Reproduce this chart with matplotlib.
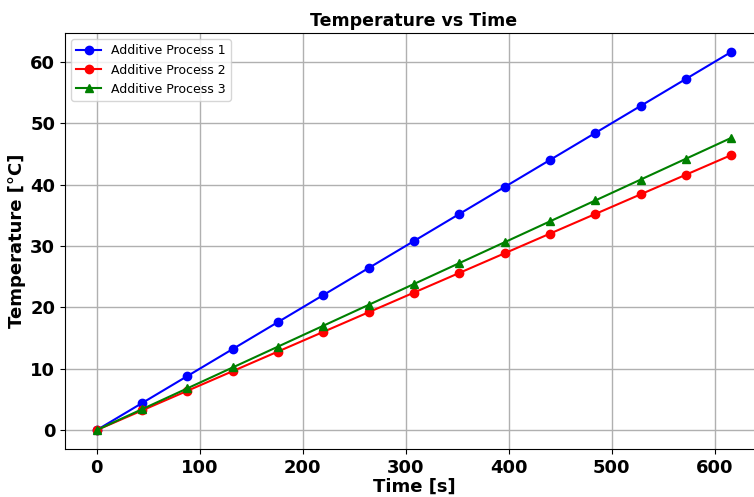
import matplotlib
matplotlib.use('Agg')
import matplotlib.pyplot as plt

# Time samples [s]
time_s = [0, 44, 88, 132, 176, 220, 264, 308, 352, 396, 440, 484, 528, 572, 616]

# Temperatures [°C]
temp_p1 = [0.0, 4.4, 8.8, 13.2, 17.6, 22.0, 26.4, 30.8, 35.2, 39.6, 44.0, 48.4, 52.8, 57.2, 61.6]
temp_p2 = [0.0, 3.2, 6.4, 9.6, 12.8, 16.0, 19.2, 22.4, 25.6, 28.8, 32.0, 35.2, 38.4, 41.6, 44.8]
temp_p3 = [0.0, 3.4, 6.8, 10.2, 13.6, 17.0, 20.4, 23.8, 27.2, 30.6, 34.0, 37.4, 40.8, 44.2, 47.6]

labels = ['Additive Process 1', 'Additive Process 2', 'Additive Process 3']

fig = plt.figure(figsize=(7.54, 4.97), dpi=100)
# axes run past the right edge, like the cropped original
ax = fig.add_axes([65 / 754, 48 / 497, 698 / 754, 416 / 497])

ax.plot(time_s, temp_p1, 'o-', color='blue', label=labels[0], markersize=6, linewidth=1.5)
ax.plot(time_s, temp_p2, 'o-', color='red', label=labels[1], markersize=6, linewidth=1.5)
ax.plot(time_s, temp_p3, '^-', color='green', label=labels[2], markersize=6, linewidth=1.5)

ax.set_title('Temperature vs Time', fontsize=12.5, fontweight='bold', pad=5)
ax.set_xlabel('Time [s]', fontsize=13, fontweight='bold', labelpad=1)
ax.set_ylabel('Temperature [°C]', fontsize=13, fontweight='bold', labelpad=3)
ax.set_xticks([0, 100, 200, 300, 400, 500, 600])
ax.set_yticks([0, 10, 20, 30, 40, 50, 60])
ax.tick_params(labelsize=13)
for lbl in ax.get_xticklabels() + ax.get_yticklabels():
    lbl.set_fontweight('bold')
ax.grid(True, color='#b0b0b0', linewidth=1.0)
ax.legend(loc='upper left', fontsize=9)

plt.savefig('out.png', dpi=100)
plt.close()
